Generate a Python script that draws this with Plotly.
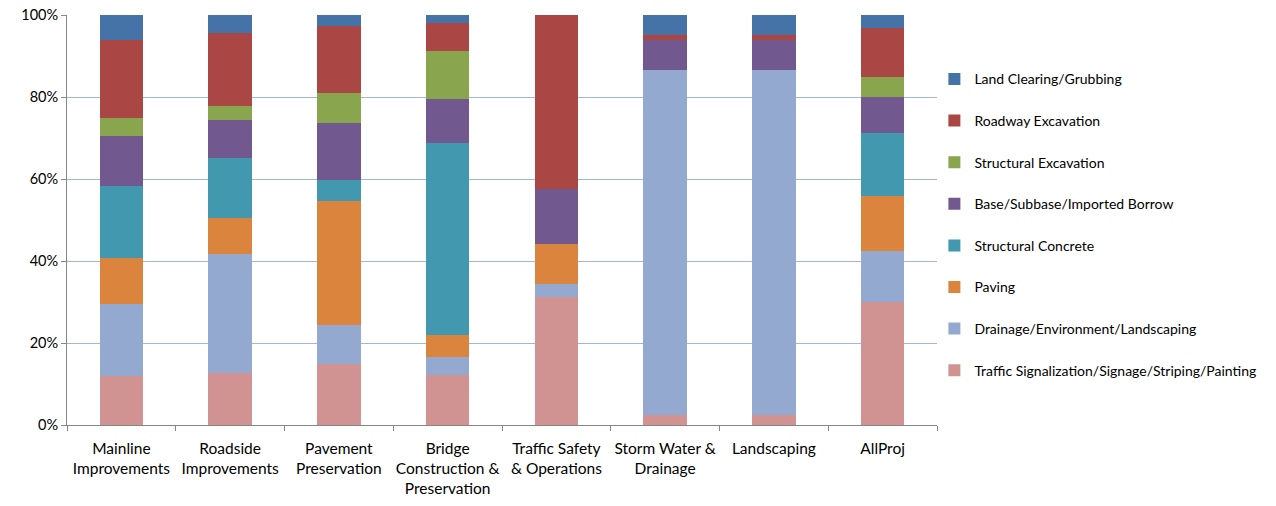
import plotly.graph_objects as go

# Project types along the x axis
categories = [
    "Mainline<br>Improvements",
    "Roadside<br>Improvements",
    "Pavement<br>Preservation",
    "Bridge<br>Construction &<br>Preservation",
    "Traffic Safety<br>& Operations",
    "Storm Water &<br>Drainage",
    "Landscaping",
    "AllProj",
]

# Share of cost (%) per work item, bottom of the stack first
traffic_signal = [12.05, 12.7, 15.0, 12.2, 31.1, 2.5, 2.5, 30.1]
drainage_env = [17.5, 29.1, 9.5, 4.5, 3.2, 84.0, 84.0, 12.4]
paving = [11.1, 8.7, 30.1, 5.3, 9.8, 0.0, 0.0, 13.4]
structural_concrete = [17.7, 14.7, 5.2, 46.8, 0.0, 0.0, 0.0, 15.2]
base_subbase = [12.1, 9.3, 13.8, 10.7, 13.5, 7.3, 7.3, 8.9]
structural_excavation = [4.3, 3.4, 7.3, 11.8, 0.0, 0.0, 0.0, 5.0]
roadway_excavation = [19.0, 17.6, 16.5, 6.8, 42.4, 1.3, 1.3, 11.9]
land_clearing = [6.2, 4.5, 2.6, 1.9, 0.0, 4.9, 4.9, 3.1]

series = [
    ("Traffic Signalization/Signage/Striping/Painting", traffic_signal, "#D19392"),
    ("Drainage/Environment/Landscaping", drainage_env, "#93A9CF"),
    ("Paving", paving, "#DB843D"),
    ("Structural Concrete", structural_concrete, "#4198AF"),
    ("Base/Subbase/Imported Borrow", base_subbase, "#71588F"),
    ("Structural Excavation", structural_excavation, "#89A54E"),
    ("Roadway Excavation", roadway_excavation, "#AA4643"),
    ("Land Clearing/Grubbing", land_clearing, "#4572A7"),
]

fig = go.Figure()
for i, (name, vals, color) in enumerate(series):
    fig.add_trace(go.Bar(
        x=categories,
        y=vals,
        name=name,
        legendgroup=name,
        # legend lists the top of the stack first
        legendrank=100 - i,
        marker=dict(color=color, line=dict(width=0)),
    ))

axis_gray = "#868686"
font_family = "Lato, 'Open Sans', sans-serif"

fig.update_layout(
    width=1276,
    height=506,
    barmode="stack",
    barnorm="percent",
    bargap=0.6,
    plot_bgcolor="white",
    paper_bgcolor="white",
    margin=dict(l=67, r=339, t=15, b=81, autoexpand=False),
    font=dict(family=font_family, color="#000000"),
    legend=dict(
        traceorder="grouped",
        tracegroupgap=20.4,
        x=0.997,
        xanchor="left",
        y=0.882,
        yanchor="top",
        font=dict(size=14, family=font_family, color="#000000"),
        itemwidth=30,
        bgcolor="rgba(0,0,0,0)",
    ),
    xaxis=dict(
        showline=True,
        linecolor=axis_gray,
        linewidth=1,
        ticks="outside",
        ticklen=5,
        tickcolor=axis_gray,
        tickson="boundaries",
        tickangle=0,
        ticklabelstandoff=9,
        automargin=False,
        tickfont=dict(size=15.5, family=font_family, color="#000000"),
        showgrid=False,
    ),
    yaxis=dict(
        range=[0, 100],
        dtick=20,
        ticksuffix="%",
        showline=True,
        linecolor=axis_gray,
        linewidth=1,
        ticks="outside",
        ticklen=5,
        tickcolor=axis_gray,
        showgrid=True,
        gridcolor="#9FB6E2",
        gridwidth=1.2,
        zeroline=False,
        automargin=False,
        tickfont=dict(size=14.5, family=font_family, color="#000000"),
    ),
)

fig.write_html("out.html")
